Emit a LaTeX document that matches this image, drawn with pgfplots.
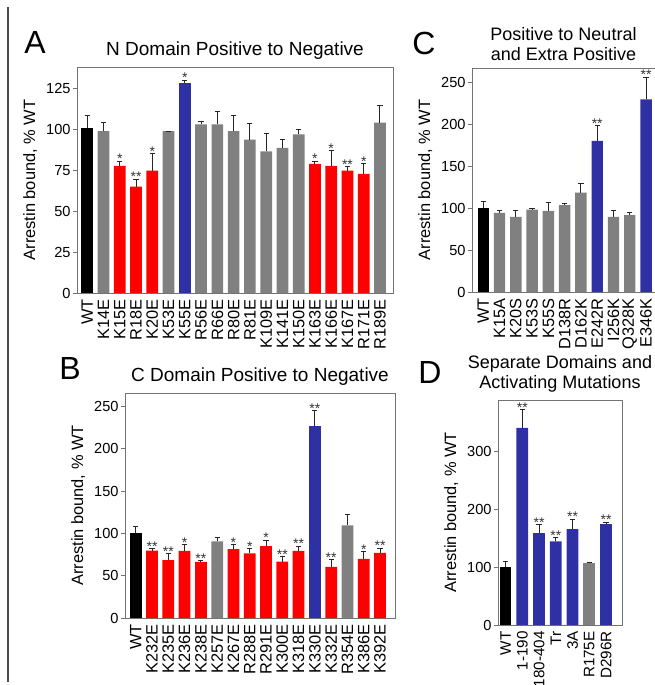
\documentclass[border=0pt]{standalone}
\usepackage{fontspec}
\setmainfont{Liberation Sans}
\usepackage{pgfplots}
\pgfplotsset{compat=1.18}
\definecolor{barred}{RGB}{255,0,0}
\definecolor{barblue}{RGB}{48,48,165}
\definecolor{bargray}{RGB}{128,128,128}
\definecolor{framegray}{RGB}{115,115,115}

\pgfplotsset{
  panel/.style={
    scale only axis, clip=false,
    ymin=0,
    xtick style={draw=none},
    ytick pos=left, tick align=outside, major tick length=2pt,
    axis line style={framegray, line width=0.5pt},
    ytick style={framegray, line width=0.5pt},
    yticklabel style={font=\fontsize{7.3}{8}\selectfont, inner sep=1pt},
    x tick label style={rotate=90, anchor=east, font=\fontsize{8.2}{8}\selectfont, inner sep=1pt},
    ylabel={Arrestin bound, \% WT},
    ylabel style={font=\fontsize{8.2}{9}\selectfont},
    every axis title/.style={at={(0.5,1)}, anchor=south, yshift=1.5pt,
      font=\fontsize{9.5}{10.2}\selectfont, align=center, inner sep=2pt},
    bar width=0.72, bar shift=0pt,
    /pgf/number format/assume math mode=true,
  },
  bars/.style={ybar, fill=#1, draw=none,
    error bars/.cd, y dir=plus, y explicit,
    error bar style={draw=black!85, line width=0.5pt},
    error mark options={rotate=90, mark size=1.3pt, draw=black!85, line width=0.5pt}},
  stars/.style={only marks, mark=*, mark size=0pt, mark options={draw=none, fill=none},
    nodes near coords, point meta=explicit symbolic,
    nodes near coords style={font=\fontsize{7}{7}\selectfont, text=black!80, anchor=south, inner sep=0pt, yshift=-1.5pt}},
}

\begin{document}
\begin{tikzpicture}
\useasboundingbox (0,0) rectangle (327pt,-342.5pt);
\draw[gray!60!black, line width=0.8pt] (4pt,-3.5pt) -- (4pt,-341pt);

% ---- A
\begin{axis}[panel, at={(38.5pt,-146.5pt)}, anchor=south west,
  width=158pt, height=113pt,
  xmin=-0.63, xmax=18.8, ymax=138,
  ytick={0,25,...,125},
  xtick={0,...,18},
  xticklabels={WT,K14E,K15E,R18E,K20E,K53E,K55E,R56E,R66E,R80E,R81E,K109E,K141E,K150E,K163E,K166E,K167E,R171E,R189E},
  title={N Domain Positive to Negative}]
\addplot[bars=black] coordinates {(0,100.9) +- (0,7.7)};
\addplot[bars=bargray] coordinates {(1,98.8) +- (0,5.2) (5,98.8) +- (0,0) (7,103.0) +- (0,2.0) (8,103.0) +- (0,8.0) (9,98.8) +- (0,9.6) (10,93.7) +- (0,9.6) (11,86.5) +- (0,10.7) (12,88.6) +- (0,5.1) (13,96.8) +- (0,3.0) (18,104.0) +- (0,10.2)};
\addplot[bars=barred] coordinates {(2,77.7) +- (0,2.7) (3,65.0) +- (0,4.6) (4,74.7) +- (0,10.4) (14,78.8) +- (0,1.6) (15,77.7) +- (0,9.2) (16,74.7) +- (0,2.6) (17,72.8) +- (0,6.0)};
\addplot[bars=barblue] coordinates {(6,128.0) +- (0,2.0)};
\addplot[stars] table[meta=s] {
x y s
2 80.4 *
3 69.6 **
4 85.1 *
6 130.0 *
14 80.4 *
15 86.9 *
16 77.3 **
17 78.8 *
};
\end{axis}
\node[font=\fontsize{16}{16}\selectfont] at (17.5pt,-21pt) {A};

% ---- C
\begin{axis}[panel, at={(236pt,-146pt)}, anchor=south west,
  width=91.5pt, height=112pt,
  xmin=-0.69, xmax=10.55, ymax=267,
  ytick={0,50,...,250},
  xtick={0,...,10},
  xticklabels={WT,K15A,K20S,K53S,K55S,D138R,D162K,E242R,I256K,Q328K,E346K},
  bar width=0.7,
  title style={font=\fontsize{9}{10.2}\selectfont},
  title={Positive to Neutral\\and Extra Positive}]
\addplot[bars=black] coordinates {(0,100.3) +- (0,8.0)};
\addplot[bars=bargray] coordinates {(1,94.3) +- (0,3.2) (2,89.6) +- (0,7.1) (3,98.3) +- (0,0.8) (4,96.7) +- (0,10.0) (5,103.5) +- (0,2.0) (6,118.6) +- (0,10.8) (8,89.6) +- (0,7.9) (9,91.6) +- (0,2.7)};
\addplot[bars=barblue] coordinates {(7,180.0) +- (0,18.2) (10,229.7) +- (0,26.3)};
\addplot[stars] table[meta=s] {
x y s
7 198.2 **
10 256.0 **
};
\end{axis}
\node[font=\fontsize{16}{16}\selectfont] at (212pt,-21.5pt) {C};

% ---- B
\begin{axis}[panel, at={(62.5pt,-309pt)}, anchor=south west,
  width=135pt, height=112.5pt,
  xmin=-0.66, xmax=15.92, ymax=266,
  ytick={0,50,...,250},
  xtick={0,...,15},
  xticklabels={WT,K232E,K235E,K236E,K238E,K257E,K267E,R288E,R291E,K300E,K318E,K330E,K332E,R354E,K386E,K392E},
  title={C Domain Positive to Negative}]
\addplot[bars=black] coordinates {(0,100.0) +- (0,8.7)};
\addplot[bars=bargray] coordinates {(5,90.5) +- (0,4.8) (13,109.5) +- (0,13.0)};
\addplot[bars=barred] coordinates {(1,79.8) +- (0,2.0) (2,68.4) +- (0,7.5) (3,79.4) +- (0,7.2) (4,66.4) +- (0,1.2) (6,81.4) +- (0,5.6) (7,76.3) +- (0,5.9) (8,85.0) +- (0,7.1) (9,66.8) +- (0,5.5) (10,79.4) +- (0,5.6) (12,60.5) +- (0,8.7) (14,70.0) +- (0,8.3) (15,77.1) +- (0,5.5)};
\addplot[bars=barblue] coordinates {(11,227.3) +- (0,17.7)};
\addplot[stars] table[meta=s] {
x y s
1 81.8 **
2 75.9 **
3 86.6 *
4 67.6 **
6 87.0 *
7 82.2 *
8 92.1 *
9 72.3 **
10 85.0 **
11 245.0 **
12 69.2 **
14 78.3 *
15 82.6 **
};
\end{axis}
\node[font=\fontsize{16}{16}\selectfont] at (35pt,-184pt) {B};

% ---- D
\begin{axis}[panel, at={(249pt,-312.5pt)}, anchor=south west,
  width=62pt, height=112.5pt,
  xmin=-0.45, xmax=6.95, ymax=390,
  ytick={0,100,200,300},
  xtick={0,...,6},
  xticklabels={WT,1-190,180-404,Tr,3A,R175E,D296R},
  x tick label style={font=\fontsize{7.6}{8}\selectfont},
  bar width=0.7,
  title style={font=\fontsize{9}{10.2}\selectfont},
  title={Separate Domains and\\Activating Mutations}]
\addplot[bars=black] coordinates {(0,100.2) +- (0,9.8)};
\addplot[bars=bargray] coordinates {(5,108.3) +- (0,0.6)};
\addplot[bars=barblue] coordinates {(1,341.6) +- (0,31.9) (2,159.2) +- (0,14.5) (3,144.8) +- (0,6.9) (4,166.2) +- (0,17.4) (6,174.9) +- (0,3.4)};
\addplot[stars] table[meta=s] {
x y s
1 373.5 **
2 173.7 **
3 151.7 **
4 183.6 **
6 178.3 **
};
\end{axis}
\node[font=\fontsize{16}{16}\selectfont] at (215pt,-186pt) {D};
\end{tikzpicture}
\end{document}
